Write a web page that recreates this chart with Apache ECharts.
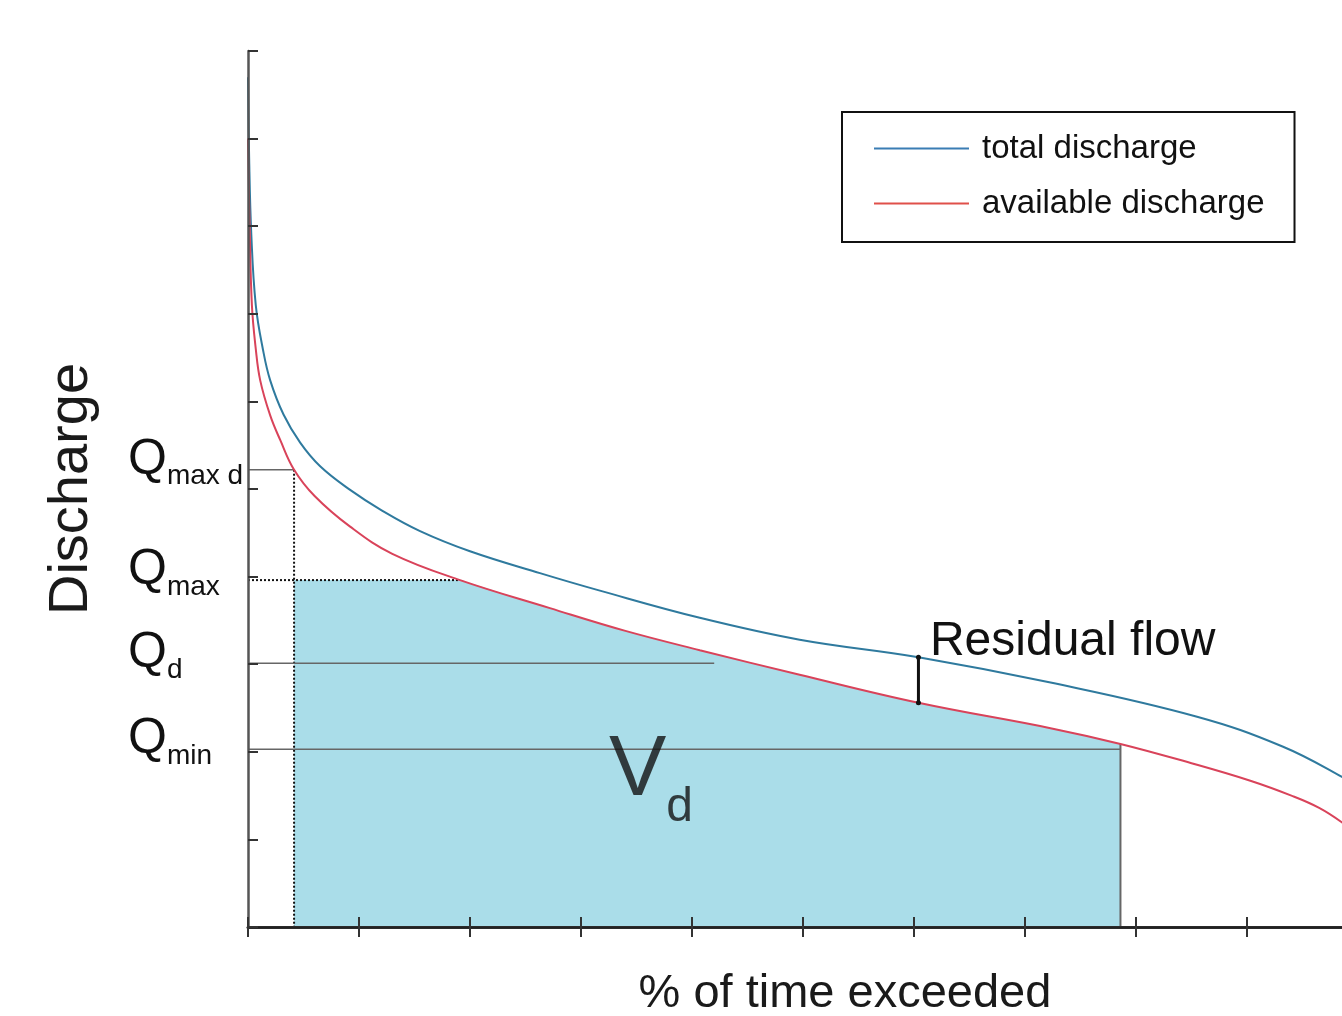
<!DOCTYPE html>
<html><head><meta charset="utf-8">
<script src="https://cdn.jsdelivr.net/npm/echarts@6/dist/echarts.min.js"></script>
<style>html,body{margin:0;padding:0;background:#fff;}#c{width:1342px;height:1016px;}</style>
</head><body><div id="c"></div>
<script>
// ---- data ----
const totalDischarge = [
  [0, 97], [0.1, 88], [0.3, 79], [0.7, 71], [1.35, 65.9], [2, 62.4], [3.2, 58.5],
  [4.7, 55.3], [6.5, 52.6], [9.2, 49.9], [12, 47.6], [15.5, 45.2], [20, 42.9], [26.3, 40.4],
  [31.7, 38.4], [40.7, 35.3], [49.7, 32.8], [60.4, 30.8], [72.3, 27.9], [85.5, 24.0],
  [93.2, 20.6], [98.6, 17.1], [100, 15.9]
];
const availableDischarge = [
  [0, 90], [0.15, 80], [0.35, 71], [0.7, 66], [1.1, 62.4], [2, 58.4], [2.9, 55.6],
  [4.15, 52.2], [6, 49.2], [9.2, 45.7], [13, 42.6], [19.1, 39.6], [27.2, 36.4],
  [34, 33.8], [40.7, 31.6], [49.7, 28.8], [60.4, 25.6], [72.3, 22.7], [78.6, 20.9],
  [85, 18.7], [90.3, 16.7], [94, 15.0], [96.5, 13.6], [98.6, 11.9], [100, 10.4]
];
const thresholdNames = ['max d', 'max', 'd', 'min'];
const thresholdValues = [52.2, 39.6, 30.1, 20.3];   // Qmaxd, Qmax, Qd, Qmin
const qmaxdX = 4.15;     // % where Qmaxd meets available discharge
const qmaxEndX = 19.1;   // % where Qmax meets available discharge
const qdEndX = 42;       // end of Qd guide line
const qminEndX = 78.6;   // % where Qmin is reached
const residualX = 60.4;  // position of residual flow marker
const vdLabelAt = [36.3, 15.8];
const legendNames = ['total discharge', 'available discharge'];

// ---- derived series ----
const residualSeg = [
  [residualX, availableDischarge.find(p => p[0] === residualX)[1]],
  [residualX, totalDischarge.find(p => p[0] === residualX)[1]]
];
const redAtQmin = availableDischarge.find(p => p[0] === qminEndX)[1];
const usedUnderCurve = availableDischarge.filter(p => p[0] >= qmaxEndX && p[0] <= qminEndX);
const usedFlat = [[qmaxdX, thresholdValues[1]], [qmaxEndX + 0.3, thresholdValues[1]]];

const FONT = '"Liberation Sans", Arial, sans-serif';
const SMOOTH = 0.4;
const FILL = '#aadde9';
const guide = (name, data, type, color, width) => ({
  name, type: 'line', data, showSymbol: false, silent: true, z: 3,
  lineStyle: { color, width, type }
});
const tick = { inside: true, length: 10, lineStyle: { color: '#333', width: 2 } };

const chart = echarts.init(document.getElementById('c'), null, { renderer: 'canvas' });
chart.setOption({
  animation: false,
  backgroundColor: '#fff',
  textStyle: { fontFamily: FONT },
  grid: { left: 248, right: -16, top: 51, bottom: 89, outerBoundsMode: 'none', containLabel: false },
  legend: {
    data: legendNames.map(n => ({ name: n, icon: 'rect' })),
    orient: 'vertical',
    left: 842, top: 112,
    itemWidth: 95, itemHeight: 2, itemGap: 22,
    padding: [20, 30, 22, 32],
    borderColor: '#111', borderWidth: 2,
    textStyle: { fontSize: 33, color: '#111', fontFamily: FONT, padding: [0, 0, 0, 8] }
  },
  xAxis: [
    {
      type: 'value', min: 0, max: 100, interval: 10, position: 'bottom', z: 10,
      name: '% of time exceeded', nameLocation: 'middle', nameGap: 44,
      nameTextStyle: { fontSize: 47, color: '#1a1a1a', padding: [0, 0, 0, 84] },
      axisLine: { lineStyle: { color: '#4a4a4a', width: 3 } },
      axisTick: tick,
      axisLabel: { show: false }, splitLine: { show: false }
    },
    {
      type: 'value', min: 0, max: 100, interval: 10, position: 'top', z: 10,
      axisLine: { lineStyle: { color: '#222', width: 2.5 } },
      axisTick: tick,
      axisLabel: { show: false }, splitLine: { show: false }
    }
  ],
  yAxis: [
    {
      type: 'value', min: 0, max: 100, interval: 10, position: 'left', z: 10,
      name: 'Discharge', nameLocation: 'middle', nameGap: 148, nameRotate: 90,
      nameTextStyle: { fontSize: 56, color: '#1a1a1a' },
      axisLine: { lineStyle: { color: '#555', width: 2.5 } },
      axisTick: tick,
      axisLabel: { show: false }, splitLine: { show: false }
    },
    {
      type: 'value', min: 0, max: 100, position: 'left',
      axisLine: { show: false }, axisTick: { show: false }, splitLine: { show: false },
      axisLabel: {
        show: true, customValues: thresholdValues, align: 'left', margin: 120,
        verticalAlign: 'middle', padding: [0, 0, 8, 0],
        formatter: v => '{q|Q}{s|' + thresholdNames[thresholdValues.indexOf(v)] + '}',
        rich: {
          q: { fontSize: 50, lineHeight: 50, color: '#111', verticalAlign: 'bottom', padding: [0, 0, 6, 0], fontFamily: FONT },
          s: { fontSize: 28, lineHeight: 28, color: '#111', verticalAlign: 'bottom', fontFamily: FONT }
        }
      }
    }
  ],
  series: [
    {
      name: 'Vd flat', type: 'line', data: usedFlat, showSymbol: false, silent: true, z: 1,
      lineStyle: { width: 0 }, areaStyle: { color: FILL, opacity: 1 }
    },
    {
      name: 'Vd under curve', type: 'line', data: usedUnderCurve, showSymbol: false, silent: true,
      smooth: SMOOTH, z: 1,
      lineStyle: { width: 0 }, areaStyle: { color: FILL, opacity: 1 }
    },
    guide('Qmaxd line', [[0, thresholdValues[0]], [qmaxdX, thresholdValues[0]]], 'solid', '#666', 1.5),
    guide('Qmaxd drop', [[qmaxdX, thresholdValues[0]], [qmaxdX, 0]], 'dotted', '#111', 2),
    guide('Qmax line', [[0, thresholdValues[1]], [qmaxEndX, thresholdValues[1]]], 'dotted', '#111', 2),
    guide('Qd line', [[0, thresholdValues[2]], [qdEndX, thresholdValues[2]]], 'solid', '#666', 1.5),
    guide('Qmin line', [[0, thresholdValues[3]], [qminEndX, thresholdValues[3]]], 'solid', '#666', 1.5),
    guide('Qmin drop', [[qminEndX, 0], [qminEndX, redAtQmin]], 'solid', '#666', 2),
    {
      name: legendNames[0], type: 'line', data: totalDischarge, showSymbol: false,
      smooth: SMOOTH, color: '#3a7db4', z: 5,
      lineStyle: { color: '#2f7a9e', width: 2 }
    },
    {
      name: legendNames[1], type: 'line', data: availableDischarge, showSymbol: false,
      smooth: SMOOTH, color: '#e0504a', z: 5,
      lineStyle: { color: '#d9435a', width: 2 }
    },
    {
      name: 'Residual flow', type: 'line', data: residualSeg, z: 6, silent: true,
      symbol: 'circle', symbolSize: 5, showSymbol: true,
      itemStyle: { color: '#111' }, lineStyle: { color: '#111', width: 3 },
      label: {
        show: true, position: 'right', distance: 9, offset: [0, -15],
        formatter: p => p.dataIndex === 1 ? 'Residual flow' : '',
        fontSize: 48, color: '#111', fontFamily: FONT
      }
    },
    {
      name: 'Vd', type: 'scatter', data: [vdLabelAt], symbolSize: 0, silent: true, z: 6,
      label: {
        show: true, position: 'inside',
        formatter: '{v|V}{d|d}',
        rich: {
          v: { fontSize: 86, lineHeight: 86, color: '#111', verticalAlign: 'bottom', padding: [0, 0, 17, 0], fontFamily: FONT },
          d: { fontSize: 48, lineHeight: 48, color: '#111', verticalAlign: 'bottom', fontFamily: FONT }
        }
      }
    }
  ]
});
</script></body></html>
